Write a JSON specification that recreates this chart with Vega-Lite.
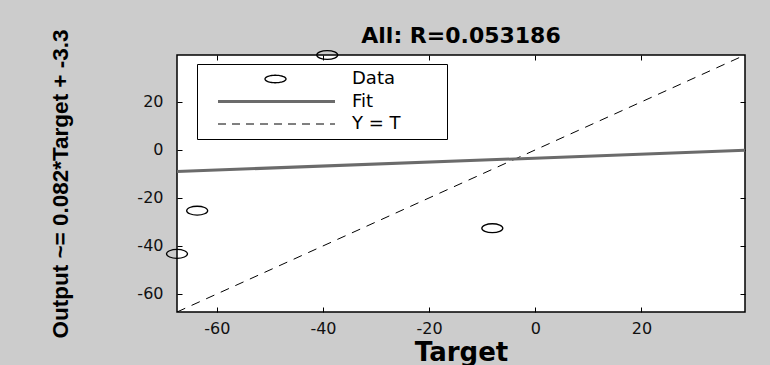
{
  "$schema": "https://vega.github.io/schema/vega-lite/v6.json",
  "width": 568,
  "height": 257,
  "autosize": "none",
  "padding": {"left": 177, "top": 55, "right": 25, "bottom": 53},
  "background": "#cccccc",
  "title": {
    "text": "All: R=0.053186",
    "font": "DejaVu Sans",
    "fontSize": 22,
    "fontWeight": "bold",
    "color": "black",
    "anchor": "middle",
    "offset": -7,
    "dy": 12
  },
  "config": {
    "view": {"fill": "white", "stroke": "black", "strokeWidth": 1.5},
    "axis": {
      "domain": false,
      "grid": false,
      "tickSize": -5,
      "tickColor": "black",
      "tickWidth": 1,
      "labelFont": "DejaVu Sans",
      "labelFontSize": 16,
      "labelColor": "#111111",
      "titleColor": "black",
      "labelExpr": "replace(datum.label, '\u2212', '-')"
    }
  },
  "data": {
    "values": [
      {"series": "Data", "target": -39.2, "output": 39.5},
      {"series": "Data", "target": -63.7, "output": -25.3},
      {"series": "Data", "target": -67.5, "output": -43.3},
      {"series": "Data", "target": -8.1, "output": -32.6},
      {"series": "Fit", "target": -67.5, "output": -9.0},
      {"series": "Fit", "target": 39.5, "output": -0.2},
      {"series": "Y = T", "target": -67.5, "output": -67.5},
      {"series": "Y = T", "target": 39.5, "output": 39.5}
    ]
  },
  "layer": [
    {
      "transform": [{"filter": "datum.series === 'Y = T'"}],
      "mark": {"type": "line", "strokeWidth": 1, "strokeDash": [9, 7], "clip": true},
      "encoding": {
        "x": {
          "field": "target", "type": "quantitative",
          "scale": {"domain": [-67.5, 39.5], "nice": false, "zero": false},
          "axis": {
            "orient": "bottom",
            "values": [-60, -40, -20, 0, 20],
            "labelPadding": 13,
            "title": "Target",
            "titleFont": "DejaVu Sans",
            "titleFontSize": 26,
            "titleFontWeight": "bold",
            "titlePadding": 3
          }
        },
        "y": {
          "field": "output", "type": "quantitative",
          "scale": {"domain": [-67.5, 39.5], "nice": false, "zero": false},
          "axis": {
            "orient": "left",
            "values": [-60, -40, -20, 0, 20],
            "labelPadding": 19,
            "title": "Output ~= 0.082*Target + -3.3",
            "titleFont": "Liberation Sans",
            "titleFontSize": 22.5,
            "titleFontWeight": "bold",
            "titlePadding": 64
          }
        },
        "color": {
          "field": "series", "type": "nominal",
          "scale": {"domain": ["Data", "Fit", "Y = T"], "range": ["black", "#6b6b6b", "black"]},
          "legend": {
            "title": null,
            "orient": "none",
            "legendX": 20,
            "legendY": 9,
            "padding": 6,
            "fillColor": "white",
            "strokeColor": "black",
            "symbolSize": 100,
            "labelFont": "DejaVu Sans",
            "labelFontSize": 18,
            "labelColor": "black",
            "labelOffset": 131,
            "rowPadding": 4.5,
            "labelExpr": "datum.label === 'Y = T' ? 'Y = T\u2800\u2800\u2800' : datum.label",
            "encode": {
              "symbols": {
                "update": {
                  "shape": {"signal": "datum.value === 'Data' ? 'M10.6,0A2.1,0.75 0 1,0 14.8,0A2.1,0.75 0 1,0 10.6,0' : 'M1.2,0L24.6,0'"},
                  "size": {"value": 100},
                  "fill": {"value": "transparent"},
                  "stroke": {"signal": "datum.value === 'Fit' ? '#6b6b6b' : 'black'"},
                  "strokeWidth": {"signal": "datum.value === 'Fit' ? 3 : (datum.value === 'Data' ? 1.3 : 1)"},
                  "strokeDash": {"signal": "datum.value === 'Y = T' ? [8, 6] : [1, 0]"},
                  "opacity": {"value": 1}
                }
              }
            }
          }
        }
      }
    },
    {
      "transform": [{"filter": "datum.series === 'Fit'"}],
      "mark": {"type": "line", "strokeWidth": 3},
      "encoding": {
        "x": {
          "field": "target", "type": "quantitative",
          "axis": {"orient": "top", "values": [-60, -40, -20, 0, 20], "labels": false, "title": null}
        },
        "y": {
          "field": "output", "type": "quantitative",
          "axis": {"orient": "right", "values": [-60, -40, -20, 0, 20], "labels": false, "title": null}
        },
        "color": {"field": "series", "type": "nominal"}
      }
    },
    {
      "transform": [{"filter": "datum.series === 'Data'"}],
      "mark": {
        "type": "point",
        "filled": false,
        "shape": "M-1,0A1,0.42 0 1,0 1,0A1,0.42 0 1,0 -1,0",
        "size": 441,
        "strokeWidth": 1.3,
        "opacity": 1
      },
      "encoding": {
        "x": {"field": "target", "type": "quantitative", "axis": null},
        "y": {"field": "output", "type": "quantitative", "axis": null},
        "color": {"field": "series", "type": "nominal"}
      }
    }
  ],
  "resolve": {"axis": {"x": "independent", "y": "independent"}}
}
